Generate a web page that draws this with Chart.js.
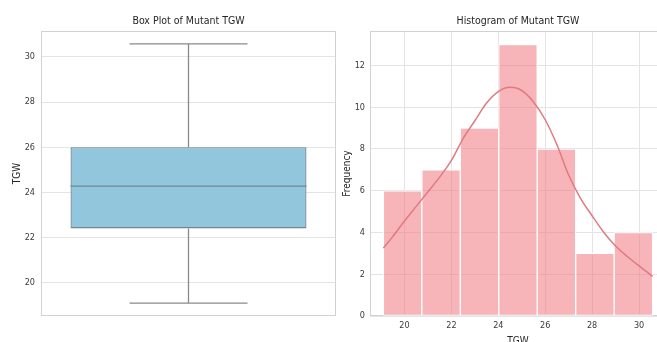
<!DOCTYPE html>
<html>
<head>
<meta charset="utf-8">
<script src="https://cdn.jsdelivr.net/npm/chart.js@4/dist/chart.umd.min.js"></script>
<style>
  html, body { margin: 0; padding: 0; background: #ffffff; overflow: hidden; }
  #wrap { position: relative; width: 657px; height: 342px; overflow: hidden; }
  #boxCanvas { position: absolute; left: 0; top: 0; }
  #histCanvas { position: absolute; left: 336px; top: 0; }
</style>
</head>
<body>
<div id="wrap">
  <canvas id="boxCanvas" width="340" height="342"></canvas>
  <canvas id="histCanvas" width="340" height="342"></canvas>
</div>
<script>
// ---- Box plot summary of mutant thousand-grain weight (TGW) ----
const boxCategories = ['Mutant TGW'];
const whiskerLow  = [19.10];
const quartile1   = [22.41];
const medianTGW   = [24.28];
const quartile3   = [26.00];
const whiskerHigh = [30.58];
const boxTicks = [20, 22, 24, 26, 28, 30];

// ---- Histogram of the same measurements ----
const binEdges = [19.10, 20.74, 22.38, 24.02, 25.66, 27.30, 28.94, 30.58];
const binCounts = [6, 7, 9, 13, 8, 3, 4];
const histXTicks = [20, 22, 24, 26, 28, 30];
const histYTicks = [0, 2, 4, 6, 8, 10, 12];

// ---- Kernel density curve (scaled to counts) ----
const kdeX = [19.1, 19.5, 20.0, 20.5, 21.0, 21.5, 22.0, 22.5, 23.0, 23.5, 24.0, 24.5,
              25.0, 25.5, 26.0, 26.5, 27.0, 27.5, 28.0, 28.5, 29.0, 29.5, 30.0, 30.58];
const kdeY = [3.25, 3.8, 4.55, 5.25, 5.95, 6.65, 7.45, 8.5, 9.35, 10.2, 10.75, 10.95,
              10.8, 10.25, 9.4, 8.2, 6.75, 5.65, 4.8, 4.0, 3.35, 2.85, 2.4, 1.9];

// pick a narrow sans face when one is installed, otherwise plain DejaVu Sans
function fontInstalled(name) {
  const c = document.createElement('canvas').getContext('2d');
  const probe = 'Box Plot of Mutant TGW 0123456789';
  c.font = '40px monospace';
  const base = c.measureText(probe).width;
  c.font = '40px "' + name + '", monospace';
  return Math.abs(c.measureText(probe).width - base) > 0.5;
}
let TYPE;
if (fontInstalled('Liberation Sans Narrow')) {
  TYPE = { family: "'Liberation Sans Narrow', sans-serif", title: 12.5, label: 12, tick: 10.5 };
} else if (fontInstalled('DejaVu Sans Condensed')) {
  TYPE = { family: "'DejaVu Sans Condensed', sans-serif", title: 10.5, label: 10, tick: 9 };
} else {
  TYPE = { family: "'DejaVu Sans', sans-serif", title: 9.5, label: 9, tick: 8.5 };
}
const LH = 1.2;
const titlePadTop = 21 - TYPE.title * LH / 2;
const titlePad = { top: titlePadTop, bottom: 31 - titlePadTop - TYPE.title * LH };

const GRID = '#e4e4e4';
const SPINE = '#d2d2d2';
const TICK_COLOR = '#3a3a3a';
const TEXT_COLOR = '#262626';

// light frame around each plotting area
const framePlugin = {
  id: 'frame',
  beforeDatasetsDraw(chart) {
    const { ctx, chartArea: a } = chart;
    ctx.save();
    ctx.strokeStyle = SPINE;
    ctx.lineWidth = 1;
    ctx.strokeRect(a.left + 0.5, a.top + 0.5, a.right - a.left - 1, a.bottom - a.top - 1);
    ctx.restore();
  }
};

// whiskers, caps and median line drawn on top of the box
const whiskerPlugin = {
  id: 'whiskers',
  afterDatasetsDraw(chart) {
    const { ctx } = chart;
    const y = chart.scales.y;
    const meta = chart.getDatasetMeta(0);
    meta.data.forEach((bar, i) => {
      const { x, width } = bar.getProps(['x', 'width'], true);
      const half = width / 2, cap = width / 4;
      const pLo = y.getPixelForValue(whiskerLow[i]);
      const pQ1 = y.getPixelForValue(quartile1[i]);
      const pMed = y.getPixelForValue(medianTGW[i]);
      const pQ3 = y.getPixelForValue(quartile3[i]);
      const pHi = y.getPixelForValue(whiskerHigh[i]);
      ctx.save();
      ctx.strokeStyle = '#8a8a8a';
      ctx.lineWidth = 1.3;
      ctx.beginPath();
      ctx.moveTo(x, pQ3); ctx.lineTo(x, pHi);
      ctx.moveTo(x, pQ1); ctx.lineTo(x, pLo);
      ctx.moveTo(x - cap, pHi); ctx.lineTo(x + cap, pHi);
      ctx.moveTo(x - cap, pLo); ctx.lineTo(x + cap, pLo);
      ctx.stroke();
      ctx.strokeStyle = '#6e8792';
      ctx.beginPath();
      ctx.moveTo(x - half, pMed); ctx.lineTo(x + half, pMed);
      ctx.stroke();
      ctx.restore();
    });
  }
};

function fixedTicks(values) {
  return function (scale) { scale.ticks = values.map(v => ({ value: v })); };
}

const titleFont = { family: TYPE.family, size: TYPE.title, weight: 'normal', lineHeight: LH };
const labelFont = { family: TYPE.family, size: TYPE.label, lineHeight: LH };
const tickFont = { family: TYPE.family, size: TYPE.tick, lineHeight: LH };

// ---------------- Box plot ----------------
new Chart(document.getElementById('boxCanvas'), {
  type: 'bar',
  data: {
    labels: boxCategories,
    datasets: [{
      data: boxCategories.map((_, i) => [quartile1[i], quartile3[i]]),
      backgroundColor: '#92c6dd',
      borderColor: '#6e8792',
      borderWidth: 1.3,
      borderSkipped: false,
      barPercentage: 0.8,
      categoryPercentage: 1.0
    }]
  },
  options: {
    responsive: false,
    animation: false,
    layout: { padding: { left: 0, right: 4, top: 0, bottom: 0 } },
    plugins: {
      legend: { display: false },
      tooltip: { enabled: false },
      title: {
        display: true,
        text: 'Box Plot of Mutant TGW',
        fullSize: false,
        color: TEXT_COLOR,
        font: titleFont,
        padding: titlePad
      }
    },
    scales: {
      x: {
        grid: { display: false },
        border: { display: false },
        ticks: { display: false },
        afterFit(scale) { scale.height = 26; }
      },
      y: {
        min: 18.53,
        max: 31.15,
        afterBuildTicks: fixedTicks(boxTicks),
        grid: { color: GRID, lineWidth: 1, drawTicks: false },
        border: { display: false },
        ticks: { color: TICK_COLOR, padding: 6, font: tickFont },
        title: {
          display: true,
          text: 'TGW',
          color: TEXT_COLOR,
          font: labelFont,
          padding: { top: 17 - TYPE.label * LH / 2, bottom: 0 }
        },
        afterFit(scale) { scale.width = 41; }
      }
    }
  },
  plugins: [framePlugin, whiskerPlugin]
});

// ---------------- Histogram with density curve ----------------
const histBars = binCounts.map((c, i) => ({ x: (binEdges[i] + binEdges[i + 1]) / 2, y: c }));
const kdePoints = kdeX.map((x, i) => ({ x: x, y: kdeY[i] }));

new Chart(document.getElementById('histCanvas'), {
  data: {
    datasets: [
      {
        type: 'line',
        data: kdePoints,
        borderColor: '#e07a80',
        borderWidth: 1.5,
        pointRadius: 0,
        cubicInterpolationMode: 'monotone',
        fill: false,
        order: 0
      },
      {
        type: 'bar',
        data: histBars,
        backgroundColor: 'rgba(240,120,128,0.55)',
        borderColor: '#ffffff',
        borderWidth: 1,
        borderSkipped: false,
        barPercentage: 1.0,
        categoryPercentage: 1.0,
        order: 1
      }
    ]
  },
  options: {
    responsive: false,
    animation: false,
    layout: { padding: { left: 0, right: 10, top: 0, bottom: 0 } },
    plugins: {
      legend: { display: false },
      tooltip: { enabled: false },
      title: {
        display: true,
        text: 'Histogram of Mutant TGW',
        fullSize: false,
        color: TEXT_COLOR,
        font: titleFont,
        padding: titlePad
      }
    },
    scales: {
      x: {
        type: 'linear',
        min: 18.53,
        max: 31.15,
        offset: false,
        afterBuildTicks: fixedTicks(histXTicks),
        grid: { color: GRID, lineWidth: 1, drawTicks: false, offset: false },
        border: { display: false },
        ticks: { color: TICK_COLOR, padding: 4, font: tickFont },
        title: {
          display: true,
          text: 'TGW',
          color: TEXT_COLOR,
          font: labelFont,
          padding: { top: 0, bottom: 1 - TYPE.label * LH / 2 }
        },
        afterFit(scale) { scale.height = 26; }
      },
      y: {
        min: 0,
        max: 13.65,
        afterBuildTicks: fixedTicks(histYTicks),
        grid: { color: GRID, lineWidth: 1, drawTicks: false },
        border: { display: false },
        ticks: { color: TICK_COLOR, padding: 5, font: tickFont },
        title: {
          display: true,
          text: 'Frequency',
          color: TEXT_COLOR,
          font: labelFont,
          padding: { top: 11 - TYPE.label * LH / 2, bottom: 0 }
        },
        afterFit(scale) { scale.width = 34; }
      }
    }
  },
  plugins: [framePlugin]
});
</script>
</body>
</html>
